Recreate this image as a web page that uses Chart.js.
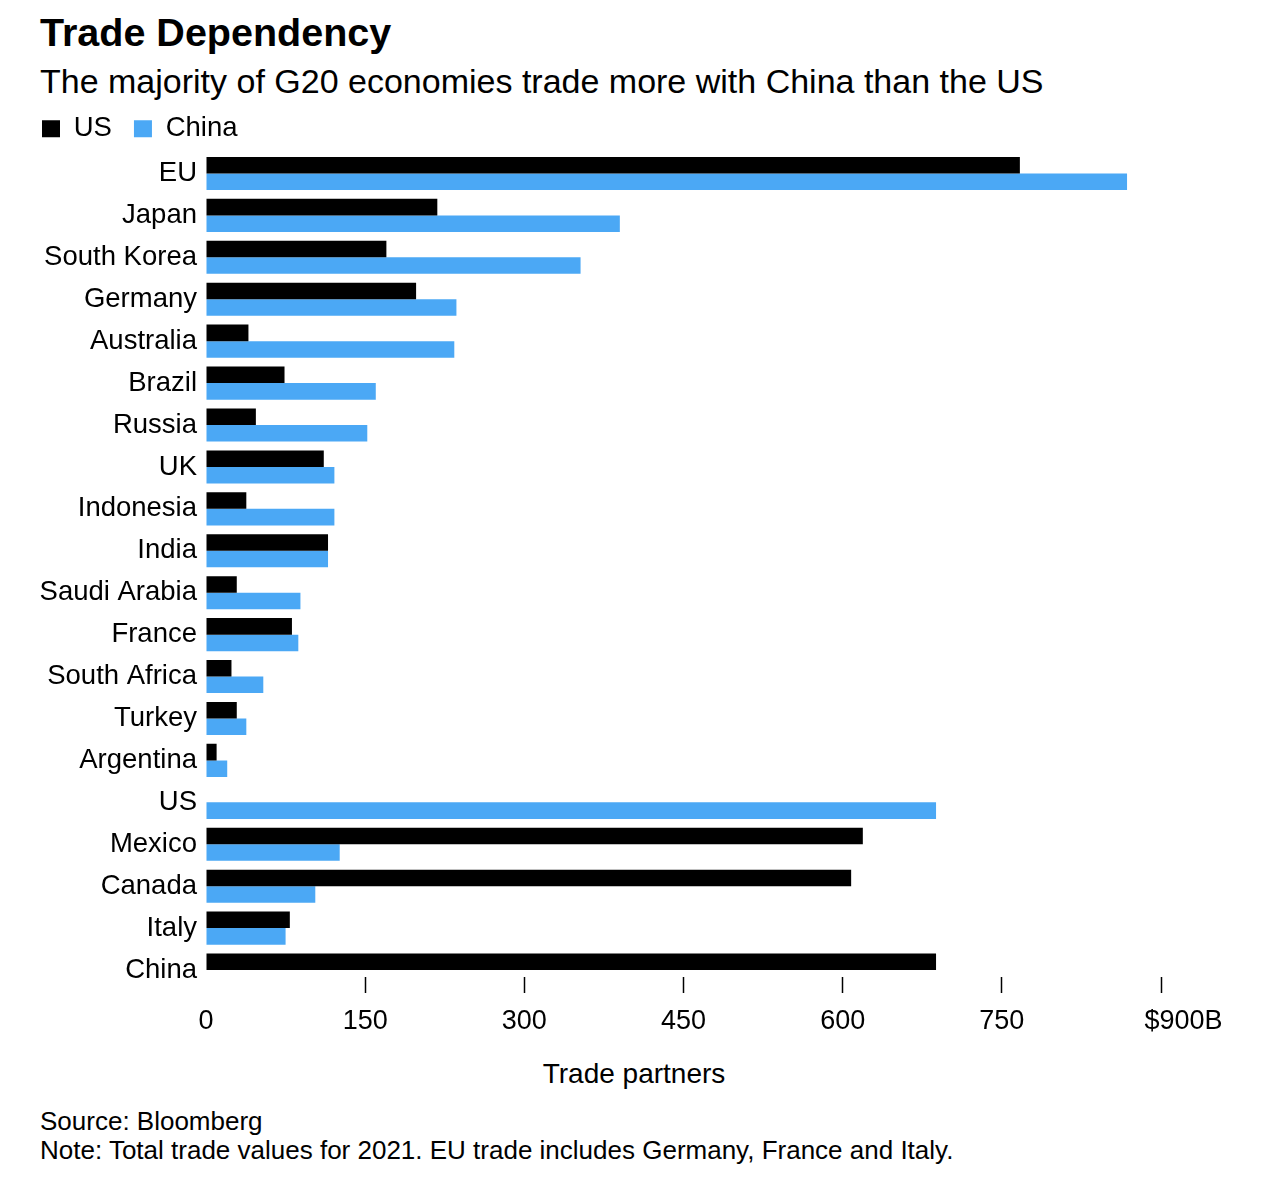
<!DOCTYPE html>
<html>
<head>
<meta charset="utf-8">
<title>Trade Dependency</title>
<script src="https://cdn.jsdelivr.net/npm/chart.js@4.4.0/dist/chart.umd.min.js"></script>
<style>
  body {
    margin: 0;
    background: #fff;
    color: #000;
    font-family: "Liberation Sans", Arial, sans-serif;
    width: 1280px;
    height: 1189px;
    position: relative;
    overflow: hidden;
  }
  .txt { position: absolute; line-height: 1; white-space: nowrap; }
  #title { left: 40px; top: 13px; font-size: 39.5px; font-weight: bold; }
  #subtitle { left: 40px; top: 64px; font-size: 34px; }
  #axisTitle { left: 0; width: 1268px; text-align: center; top: 1060px; font-size: 28px; }
  #source { left: 40px; top: 1108px; font-size: 26px; }
  #note { left: 40px; top: 1137px; font-size: 26px; }
  #wrap { position: absolute; left: 0; top: 93px; width: 1280px; height: 958px; }
</style>
</head>
<body>

<div class="txt" id="title">Trade Dependency</div>
<div class="txt" id="subtitle">The majority of G20 economies trade more with China than the US</div>
<div id="wrap"><canvas id="tradeChart"></canvas></div>
<div class="txt" id="axisTitle">Trade partners</div>
<div class="txt" id="source">Source: Bloomberg</div>
<div class="txt" id="note">Note: Total trade values for 2021. EU trade includes Germany, France and Italy.</div>

<script>
/* =========================
   DATA (billions USD, 2021)
========================= */

const partners = [
  "EU", "Japan", "South Korea", "Germany", "Australia", "Brazil", "Russia",
  "UK", "Indonesia", "India", "Saudi Arabia", "France", "South Africa",
  "Turkey", "Argentina", "US", "Mexico", "Canada", "Italy", "China"
];

const tradeWithUS = [
  767, 218, 170, 198, 40, 74, 47,
  111, 38, 115, 29, 81, 24,
  29, 10, null, 619, 608, 79, 688
];

const tradeWithChina = [
  868, 390, 353, 236, 234, 160, 152,
  121, 121, 115, 89, 87, 54,
  38, 20, 688, 126, 103, 75, null
];

const xTicks = [0, 150, 300, 450, 600, 750, 900];

/* =========================
   CHART
========================= */

const usColor = "#000000";
const chinaColor = "#4ba8f5";
const font = "'Liberation Sans', Arial, sans-serif";

const ctx = document.getElementById("tradeChart").getContext("2d");

new Chart(ctx, {
  type: "bar",
  data: {
    labels: partners,
    datasets: [
      {
        label: "US",
        data: tradeWithUS,
        backgroundColor: usColor,
        borderWidth: 0
      },
      {
        label: "China",
        data: tradeWithChina,
        backgroundColor: chinaColor,
        borderWidth: 0
      }
    ]
  },
  options: {
    indexAxis: "y",
    responsive: true,
    maintainAspectRatio: false,
    animation: false,
    datasets: {
      bar: {
        categoryPercentage: 0.79,
        barPercentage: 1.0
      }
    },
    layout: {
      padding: { left: 20, right: 119, top: 0, bottom: 60 }
    },
    plugins: {
      tooltip: { enabled: false },
      legend: {
        position: "top",
        align: "start",
        labels: {
          color: "#000",
          font: { family: font, size: 27.5 },
          boxWidth: 18,
          boxHeight: 17,
          padding: 22
        }
      }
    },
    scales: {
      x: {
        type: "linear",
        min: 0,
        max: 900,
        // axis sits just under the last bar, like the original
        position: { y: 19.17 },
        afterBuildTicks: (scale) => {
          scale.ticks = xTicks.map(v => ({ value: v }));
        },
        border: { display: false },
        grid: {
          drawOnChartArea: false,
          drawTicks: true,
          tickLength: 16,
          tickWidth: 1.5,
          tickColor: (c) => c.index === 0 ? "rgba(0,0,0,0)" : "#000"
        },
        ticks: {
          color: "#000",
          padding: 12,
          font: { family: font, size: 27 },
          maxRotation: 0,
          callback: (v) => v === 900 ? "      $900B" : String(v)
        }
      },
      y: {
        afterFit: (scale) => { scale.width = 186; },
        border: { display: false },
        grid: { display: false, drawTicks: false },
        ticks: {
          color: "#000",
          padding: 9,
          autoSkip: false,
          font: { family: font, size: 27.5 }
        }
      }
    }
  }
});
</script>
</body>
</html>
